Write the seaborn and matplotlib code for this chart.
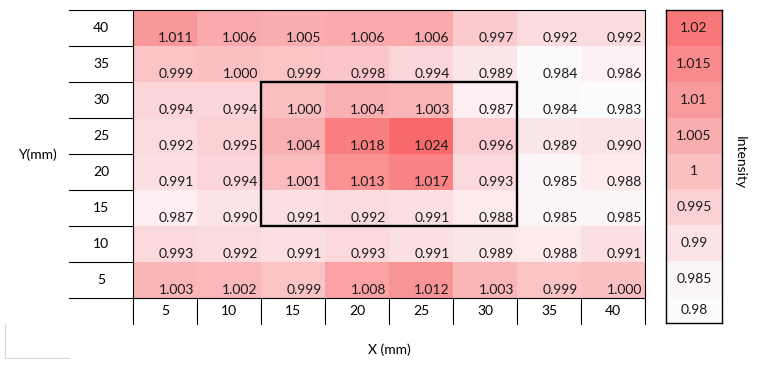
import numpy as np
import pandas as pd
import seaborn as sns
import matplotlib.pyplot as plt
from matplotlib.colors import LinearSegmentedColormap
from matplotlib.patches import Rectangle
from matplotlib.lines import Line2D

x_mm = [5, 10, 15, 20, 25, 30, 35, 40]
y_mm = [40, 35, 30, 25, 20, 15, 10, 5]

row_40 = [1.011, 1.006, 1.005, 1.006, 1.006, 0.997, 0.992, 0.992]
row_35 = [0.999, 1.000, 0.999, 0.998, 0.994, 0.989, 0.984, 0.986]
row_30 = [0.994, 0.994, 1.000, 1.004, 1.003, 0.987, 0.984, 0.983]
row_25 = [0.992, 0.995, 1.004, 1.018, 1.024, 0.996, 0.989, 0.990]
row_20 = [0.991, 0.994, 1.001, 1.013, 1.017, 0.993, 0.985, 0.988]
row_15 = [0.987, 0.990, 0.991, 0.992, 0.991, 0.988, 0.985, 0.985]
row_10 = [0.993, 0.992, 0.991, 0.993, 0.991, 0.989, 0.988, 0.991]
row_5 = [1.003, 1.002, 0.999, 1.008, 1.012, 1.003, 0.999, 1.000]

scale_values = [1.02, 1.015, 1.01, 1.005, 1.0, 0.995, 0.99, 0.985, 0.98]
scale_labels = ["1.02", "1.015", "1.01", "1.005", "1", "0.995", "0.99", "0.985", "0.98"]

# highlighted region (mm)
box_x = (15, 30)
box_y = (30, 15)

grid = pd.DataFrame([row_40, row_35, row_30, row_25, row_20, row_15, row_10, row_5],
                    index=y_mm, columns=x_mm)

plt.rcParams["font.family"] = ["Lato", "DejaVu Sans"]
fs = 10
cmap = LinearSegmentedColormap.from_list("excel_red", ["#FCFCFF", "#F8696B"])
vmin, vmax = 0.983, 1.024

W, H = 768, 367
fig = plt.figure(figsize=(7.68, 3.67), dpi=100)
ax = fig.add_axes([133 / W, 1 - 298 / H, 512 / W, 288 / H])

sns.heatmap(grid, ax=ax, cmap=cmap, vmin=vmin, vmax=vmax, cbar=False,
            xticklabels=False, yticklabels=False)
ax.set_xlabel("")
ax.set_ylabel("")
ax.tick_params(length=0)

nr, nc = grid.shape
for i in range(nr):
    for j in range(nc):
        ax.text(j + 0.95, i + 0.88, f"{grid.iloc[i, j]:.3f}", ha="right", va="baseline",
                fontsize=fs, color="#1a1a1a")

# label row / column of the table
lab_h = 26 / 36
for i, y in enumerate(y_mm):
    ax.text(-0.5, i + 0.5, str(y), ha="center", va="center", fontsize=fs)
for j, x in enumerate(x_mm):
    ax.text(j + 0.5, nr + lab_h / 2, str(x), ha="center", va="center", fontsize=fs)

line_kw = dict(color="black", lw=0.8, clip_on=False)
ax.plot([-1, nc], [0, 0], **line_kw)
ax.plot([-1, nc], [nr, nr], **line_kw)
for i in range(1, nr):
    ax.plot([-1, 0], [i, i], **line_kw)
ax.plot([0, 0], [0, nr + lab_h], **line_kw)
ax.plot([nc, nc], [0, nr + lab_h], **line_kw)
for j in range(1, nc):
    ax.plot([j, j], [nr, nr + lab_h], **line_kw)

# black box
c0, c1 = x_mm.index(box_x[0]), x_mm.index(box_x[1]) + 1
r0, r1 = y_mm.index(box_y[0]), y_mm.index(box_y[1]) + 1
ax.add_patch(Rectangle((c0, r0), c1 - c0, r1 - r0, fill=False, ec="black", lw=1.7))

ax.set_xlim(0, nc)
ax.set_ylim(nr, 0)

fig.text(37 / W, 1 - 155 / H, "Y(mm)", ha="center", va="center", fontsize=fs)
fig.text(389 / W, 1 - 350 / H, "X (mm)", ha="center", va="center", fontsize=fs)

# colour scale
cax = fig.add_axes([666 / W, 1 - 323 / H, 56 / W, 313 / H])
scale = pd.DataFrame({"v": scale_values})
sns.heatmap(scale, ax=cax, cmap=cmap, vmin=vmin, vmax=vmax, cbar=False,
            xticklabels=False, yticklabels=False)
cax.set_xlabel("")
cax.set_ylabel("")
cax.tick_params(length=0)
last_h = 26 / 36
cax.set_ylim(len(scale_values) - 1 + last_h, 0)
for i, lab in enumerate(scale_labels):
    yc = i + 0.5 if i < len(scale_labels) - 1 else i + last_h / 2
    cax.text(0.5, yc, lab, ha="center", va="center", fontsize=fs, color="#1a1a1a")
for s in cax.spines.values():
    s.set_visible(True)
    s.set_color("black")
    s.set_linewidth(1.0)

fig.text(740 / W, 1 - 163 / H, "Intensity", rotation=270, ha="center", va="center", fontsize=fs)

# faint leftover cell border bottom-left
fig.add_artist(Line2D([5 / W, 5 / W], [1 - 324 / H, 1 - 358 / H], color="#d9d9d9", lw=0.8))
fig.add_artist(Line2D([5 / W, 69 / W], [1 - 358 / H, 1 - 358 / H], color="#d9d9d9", lw=0.8))

plt.savefig("out.png", dpi=100)
